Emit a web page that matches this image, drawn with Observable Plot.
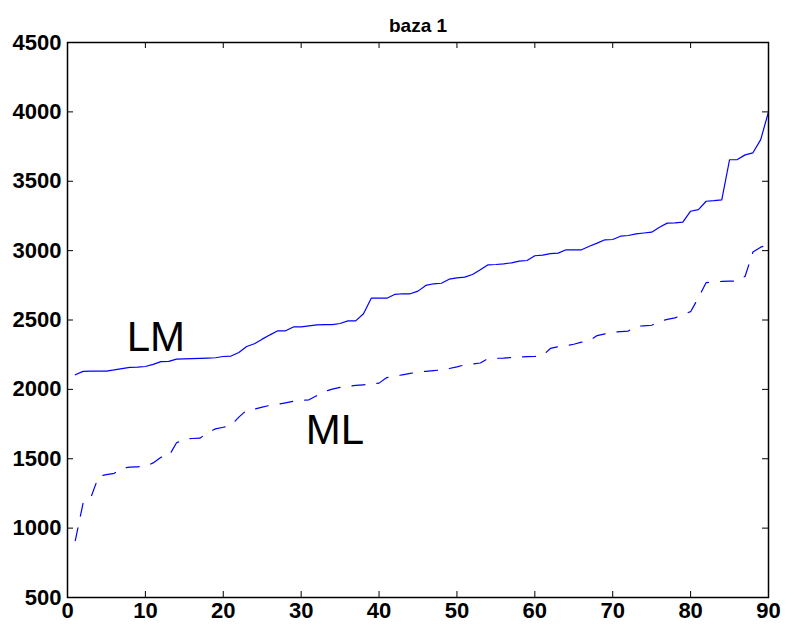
<!DOCTYPE html>
<html>
<head>
<meta charset="utf-8">
<script src="https://cdn.jsdelivr.net/npm/d3@7"></script>
<script src="https://cdn.jsdelivr.net/npm/@observablehq/plot@0.6"></script>
<style>
  body { margin: 0; background: #fff; }
  #chart svg { display: block; }
</style>
</head>
<body>
<div id="chart"></div>
<script>
// Sorted results per test case (1..90) for the two methods
const lm = [
  2105, 2130, 2131, 2131, 2132, 2140, 2150, 2158, 2160, 2165,
  2180, 2200, 2202, 2218, 2220, 2221, 2223, 2225, 2228, 2237,
  2240, 2266, 2309, 2329, 2362, 2393, 2422, 2422, 2450, 2450,
  2457, 2465, 2467, 2467, 2475, 2494, 2494, 2545, 2657, 2657,
  2657, 2684, 2689, 2689, 2708, 2749, 2761, 2765, 2794, 2804,
  2809, 2828, 2862, 2898, 2900, 2905, 2912, 2924, 2929, 2963,
  2968, 2978, 2982, 3006, 3006, 3006, 3032, 3054, 3078, 3080,
  3104, 3109, 3121, 3127, 3133, 3168, 3198, 3200, 3205, 3284,
  3296, 3356, 3360, 3366, 3655, 3656, 3690, 3705, 3800, 4000
];
const ml = [
   910, 1180, 1220, 1375, 1385, 1395, 1430, 1440, 1442, 1445,
  1470, 1511, 1518, 1615, 1640, 1646, 1648, 1690, 1715, 1727,
  1740, 1800, 1850, 1858, 1872, 1885, 1892, 1903, 1915, 1920,
  1925, 1955, 1985, 2002, 2014, 2022, 2029, 2033, 2037, 2045,
  2085, 2095, 2105, 2115, 2125, 2130, 2135, 2141, 2150, 2162,
  2177, 2183, 2190, 2222, 2224, 2225, 2230, 2233, 2236, 2238,
  2242, 2295, 2308, 2315, 2325, 2340, 2352, 2388, 2400, 2412,
  2416, 2420, 2455, 2458, 2462, 2490, 2505, 2515, 2540, 2560,
  2660, 2770, 2775, 2778, 2780, 2780, 2815, 2990, 3025, 3045
];
const xTicks = [0, 10, 20, 30, 40, 50, 60, 70, 80, 90];
const yTicks = [500, 1000, 1500, 2000, 2500, 3000, 3500, 4000, 4500];
const seriesLabels = [
  {name: "LM", x: 7.6, y: 2370},
  {name: "ML", x: 30.6, y: 1700}
];
const title = "baza 1";

const W = 786, H = 629;
const mLeft = 67, mRight = 18, mTop = 42, mBottom = 32;
const innerW = W - mLeft - mRight;
const innerH = H - mTop - mBottom;
const tickLen = 6;

const lmRows = lm.map((v, i) => ({i: i + 1, v}));
const mlRows = ml.map((v, i) => ({i: i + 1, v}));

const chart = Plot.plot({
  width: W,
  height: H,
  marginLeft: mLeft,
  marginRight: mRight,
  marginTop: mTop,
  marginBottom: mBottom,
  style: {fontFamily: "'Liberation Sans', Arial, Helvetica, sans-serif", fontWeight: "bold", color: "#000", background: "#fff"},
  x: {domain: [0, 90]},
  y: {domain: [500, 4500]},
  marks: [
    // inward tick marks on all four sides
    Plot.tickX(xTicks, {x: d => d, insetTop: innerH - tickLen, stroke: "#000"}),
    Plot.tickX(xTicks, {x: d => d, insetBottom: innerH - tickLen, stroke: "#000"}),
    Plot.tickY(yTicks, {y: d => d, insetRight: innerW - tickLen, stroke: "#000"}),
    Plot.tickY(yTicks, {y: d => d, insetLeft: innerW - tickLen, stroke: "#000"}),
    Plot.axisX({ticks: xTicks, tickFormat: d => String(d), tickSize: 0, tickPadding: 5, fontSize: 22, label: null}),
    Plot.axisY({ticks: yTicks, tickFormat: d => String(d), tickSize: 0, tickPadding: 6, fontSize: 22, label: null}),
    Plot.line(lmRows, {x: "i", y: "v", stroke: "#0000ff", strokeWidth: 1.2}),
    Plot.line(mlRows, {x: "i", y: "v", stroke: "#0000ff", strokeWidth: 1.2, strokeDasharray: "13,12"}),
    Plot.text(seriesLabels, {x: "x", y: "y", text: "name", textAnchor: "start", fontSize: 42, fontWeight: "normal", fill: "#000"}),
    Plot.text([title], {frameAnchor: "top", dy: -24, fontSize: 19, fontWeight: "bold", fill: "#000"}),
    Plot.frame({stroke: "#000", strokeWidth: 1.5})
  ]
});
document.getElementById("chart").append(chart);
</script>
</body>
</html>
